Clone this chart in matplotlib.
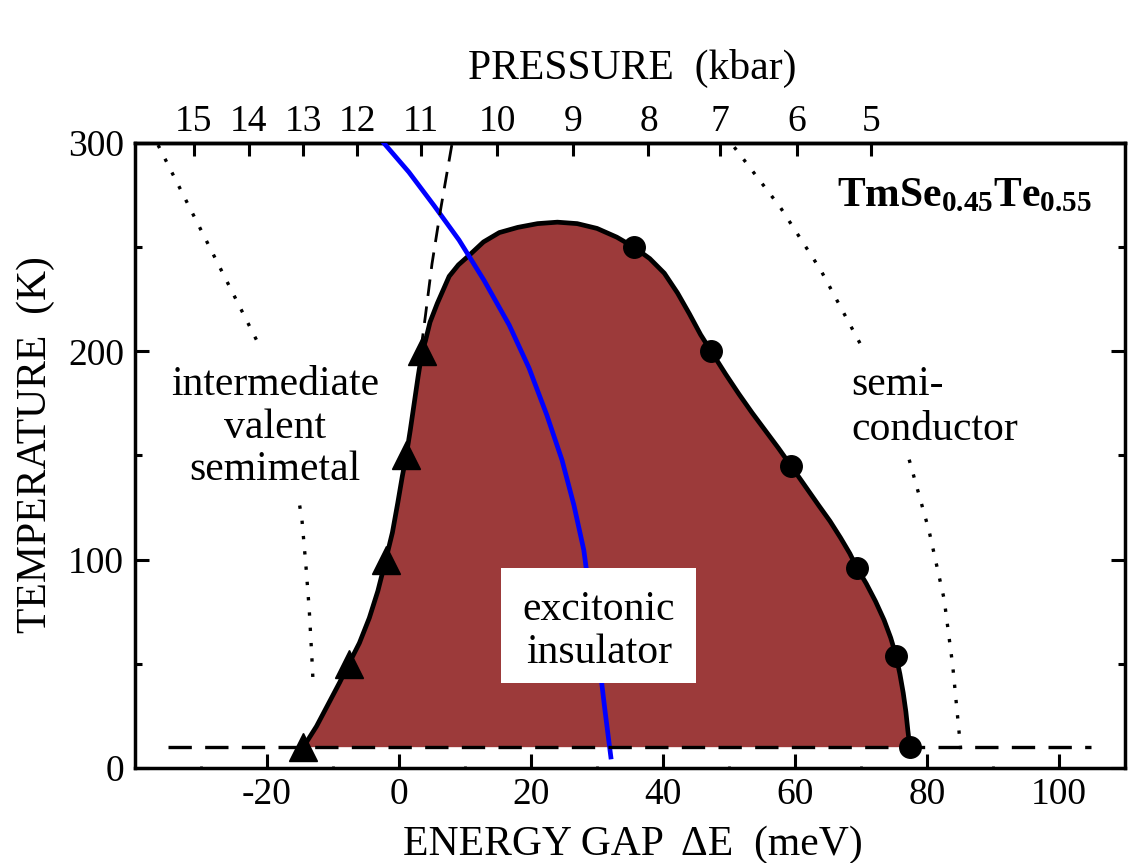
import matplotlib
matplotlib.use('Agg')
import matplotlib.pyplot as plt
from matplotlib.patches import Rectangle
from matplotlib.ticker import FixedLocator

plt.rcParams['font.family'] = ['Liberation Serif', 'DejaVu Serif']
plt.rcParams['mathtext.fontset'] = 'custom'
plt.rcParams['mathtext.rm'] = 'Liberation Serif'
plt.rcParams['mathtext.bf'] = 'Liberation Serif:bold'
plt.rcParams['mathtext.it'] = 'Liberation Serif:italic'
plt.rcParams['axes.unicode_minus'] = False

# ---------------- data ----------------
boundary_E = [-14.5, -12.5, -10.5, -9.0, -7.6, -6.0, -4.5, -3.2, -2.0, -1.0, -0.2,
              0.5, 1.1, 1.7, 2.3, 2.9, 3.5, 4.0, 4.7, 5.8, 7.6, 9.0, 10.6, 12.8,
              15.2, 18.0, 21.0, 24.0, 27.0, 30.0, 33.0, 35.6, 38.0, 40.2, 42.2,
              44.0, 45.7, 47.3, 49.5, 51.5, 53.5, 55.5, 57.5, 59.4, 61.5, 63.6,
              65.3, 66.9, 68.3, 69.4, 70.8, 72.2, 73.5, 74.5, 75.3, 75.9, 76.4,
              76.8, 77.1, 77.4]
boundary_T = [10, 20, 32, 41, 50, 60, 72, 85, 100, 113, 127,
              140, 150, 162, 175, 188, 200, 205, 214, 223, 236, 241.5, 246, 252.5,
              257, 259.5, 261.3, 262, 261.3, 259, 254.8, 250, 244.5, 237.5, 228,
              218, 208, 200, 189, 179.5, 170.5, 162, 153.5, 145, 135.5, 126,
              118.5, 110.5, 103, 96, 88.5, 80, 71, 62.5, 54, 45, 36,
              27, 18, 10]

tri_E = [-14.5, -7.6, -2.0, 1.1, 3.5]
tri_T = [10, 50, 100, 150, 200]

circ_E = [35.6, 47.3, 59.4, 69.4, 75.3, 77.4]
circ_T = [250, 200, 145, 96, 54, 10]

blue_E = [-2.3, 1.5, 5.3, 9.1, 12.9, 16.7, 19.7, 22.4, 24.7, 26.5, 28.0, 29.2,
          30.3, 31.2, 32.1]
blue_T = [300, 286, 270, 253.4, 234, 212.6, 192, 169.4, 147.8, 126.2, 104.6, 75.8,
          51.8, 27.8, 5.3]

steep_E = [8.0, 6.3, 5.0, 4.0, 3.5]
steep_T = [299, 268, 242, 217, 205]

base_E = [-35.0, 104.8]
base_T = [10, 10]

dot1_E = [-36.5, -21.2]
dot1_T = [299, 203]
dot2_E = [-15.05, -14.7, -14.1, -13.6, -13.2, -13.0]
dot2_T = [126, 119, 97, 76, 53, 40]
dot3_E = [50.8, 57.8, 63.9, 70.5]
dot3_T = [298, 269, 239, 200]
dot4_E = [77.3, 80.3, 82.6, 83.9, 85.2]
dot4_T = [148, 114, 81, 49, 6]

x_major = [-20, 0, 20, 40, 60, 80, 100]
x_minor = [-30, -10, 10, 30, 50, 70, 90]
y_major = [0, 100, 200, 300]
y_minor = [50, 150, 250]

pressure_labels = ['15', '14', '13', '12', '11', '10', '9', '8', '7', '6', '5']
pressure_pos = [-31.1, -22.8, -14.5, -6.3, 3.3, 14.9, 26.4, 37.8, 48.7, 60.3, 71.5]

# ---------------- figure ----------------
fig = plt.figure(figsize=(11.28, 8.63), dpi=100)
ax = fig.add_axes([135/1128, 1 - 768/863, 990/1128, 625/863])
ax.set_xlim(-40, 110)
ax.set_ylim(0, 300)

fill_col = '#9c3a3a'
ax.fill(boundary_E, boundary_T, color=fill_col, lw=0, zorder=1)
ax.plot(boundary_E, boundary_T, color='black', lw=3.4, zorder=3,
        solid_joinstyle='round', solid_capstyle='round')
ax.plot(base_E, base_T, color='black', lw=2.4, dashes=(7, 4), zorder=4)
ax.plot(steep_E, steep_T, color='black', lw=2.0, dashes=(6, 3.8), zorder=4)
ax.plot(blue_E, blue_T, color='#0000ff', lw=3.4, zorder=3.5,
        solid_joinstyle='round')
for de, dt in [(dot1_E, dot1_T), (dot2_E, dot2_T), (dot3_E, dot3_T), (dot4_E, dot4_T)]:
    ax.plot(de, dt, color='black', lw=2.4, dashes=(1, 3.6), zorder=2)

ax.plot(tri_E, tri_T, ls='none', marker='^', ms=20, color='black', zorder=5)
ax.plot(circ_E, circ_T, ls='none', marker='o', ms=15.5, color='black', zorder=5)

# white box with text
ax.add_patch(Rectangle((15.5, 40.8), 29.5, 55.2, facecolor='white', edgecolor='none', zorder=6))
fs = 30
ax.text(30.3, 71, 'excitonic', ha='center', va='baseline', fontsize=fs, zorder=7)
ax.text(30.3, 50.4, 'insulator', ha='center', va='baseline', fontsize=fs, zorder=7)

ax.text(-18.8, 179, 'intermediate', ha='center', va='baseline', fontsize=fs)
ax.text(-18.8, 158.5, 'valent', ha='center', va='baseline', fontsize=fs)
ax.text(-18.8, 138, 'semimetal', ha='center', va='baseline', fontsize=fs)

ax.text(68.5, 179, 'semi-', ha='left', va='baseline', fontsize=fs)
ax.text(68.5, 157.5, 'conductor', ha='left', va='baseline', fontsize=fs)

ax.text(105, 269.4, r'$\mathbf{TmSe}_{\mathbf{0.45}}\mathbf{Te}_{\mathbf{0.55}}$',
        ha='right', va='baseline', fontsize=30)

# axes styling
for s in ax.spines.values():
    s.set_linewidth(2.5)
ax.xaxis.set_major_locator(FixedLocator(x_major))
ax.xaxis.set_minor_locator(FixedLocator(x_minor))
ax.yaxis.set_major_locator(FixedLocator(y_major))
ax.yaxis.set_minor_locator(FixedLocator(y_minor))
ax.tick_params(axis='x', which='major', direction='in', length=10, width=2.2,
               labelsize=27, pad=6.5, top=False)
ax.tick_params(axis='x', which='minor', direction='in', length=1.5, width=2.0, top=False)
ax.tick_params(axis='y', which='major', direction='in', length=10, width=2.2,
               labelsize=27, pad=8, right=True)
ax.tick_params(axis='y', which='minor', direction='in', length=5, width=2.2, right=True)

ax.set_xlabel('ENERGY GAP  ΔE  (meV)', fontsize=30, va='baseline')
ax.xaxis.set_label_coords(0.5025, -0.1392)
ax.set_ylabel('TEMPERATURE  (K)', fontsize=30, va='baseline')
ax.yaxis.set_label_coords(-0.0899, 0.5168)

top = ax.secondary_xaxis('top')
top.set_xticks(pressure_pos, labels=pressure_labels)
top.tick_params(axis='x', direction='in', length=9, width=2.2, labelsize=27, pad=3)
top.spines['top'].set_linewidth(2.5)
ax.text(0.5025, 1.1024, 'PRESSURE  (kbar)', transform=ax.transAxes,
        ha='center', va='baseline', fontsize=30)

fig.savefig('out.png', dpi=100)
